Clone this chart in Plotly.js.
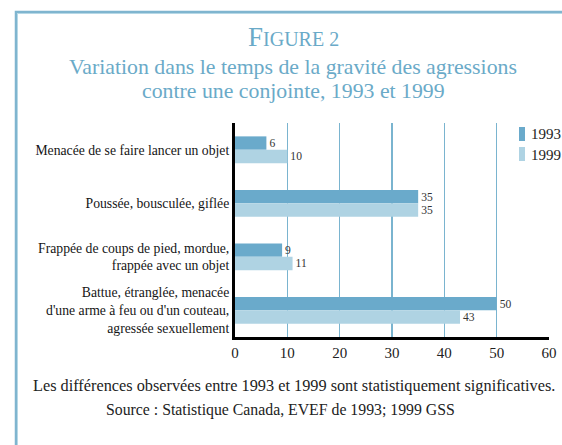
<!DOCTYPE html>
<html>
<head>
<meta charset="utf-8">
<script src="https://cdn.plot.ly/plotly-3.0.1.min.js"></script>
<style>
  html, body { margin: 0; padding: 0; background: #ffffff; }
  #chart { width: 562px; height: 445px; }
</style>
</head>
<body>
<div id="chart"></div>
<script>
const categories = [
  "Menacée de se faire lancer un objet",
  "Poussée, bousculée, giflée",
  "Frappée de coups de pied, mordue,<br>frappée avec un objet",
  "Battue, étranglée, menacée<br>d'une arme à feu ou d'un couteau,<br>agressée sexuellement"
];
const values1993 = [6, 35, 9, 50];
const values1999 = [10, 35, 11, 43];
const seriesNames = ["1993", "1999"];
const xTicks = [0, 10, 20, 30, 40, 50, 60];

const c1993 = "#6aaacb";
const c1999 = "#afd3e3";
const titleColor = "#6aaac8";
const serif = "'Liberation Serif', 'Times New Roman', serif";

const traces = [
  {
    type: "bar", orientation: "h", name: seriesNames[0],
    y: categories, x: values1993,
    marker: { color: c1993 },
    text: values1993.map(String), textposition: "outside",
    textfont: { family: serif, size: 13, color: "#333" },
    cliponaxis: false, showlegend: false, hoverinfo: "x+name"
  },
  {
    type: "bar", orientation: "h", name: seriesNames[1],
    y: categories, x: values1999,
    marker: { color: c1999 },
    text: values1999.map(String), textposition: "outside",
    textfont: { family: serif, size: 13, color: "#333" },
    cliponaxis: false, showlegend: false, hoverinfo: "x+name"
  }
];

const L = 235, R = 13, T = 123, B = 108, W = 562, H = 445;
const pw = W - L - R, ph = H - T - B;
const px = v => (v - L) / pw;
const py = v => (H - B - v) / ph;

const layout = {
  width: W, height: H,
  margin: { l: L, r: R, t: T, b: B, pad: 0 },
  paper_bgcolor: "#ffffff", plot_bgcolor: "#ffffff",
  barmode: "group", bargap: 0.5, bargroupgap: 0,
  font: { family: serif, color: "#222" },
  xaxis: {
    range: [0, 60], tickvals: xTicks, ticktext: xTicks.map(String),
    showgrid: true, gridcolor: "#7ab4cf", gridwidth: 1.5,
    zeroline: false, showline: true, linecolor: "#000", linewidth: 3,
    ticks: "", tickfont: { family: serif, size: 15, color: "#222" },
    fixedrange: true
  },
  yaxis: {
    autorange: "reversed", showgrid: false, zeroline: false,
    showline: true, linecolor: "#000", linewidth: 3,
    ticks: "", ticklabelstandoff: 0,
    tickfont: { family: serif, size: 13.7, color: "#151515" },
    fixedrange: true
  },
  shapes: [
    { type: "path", xref: "paper", yref: "paper",
      path: `M ${px(16)} ${py(460)} L ${px(16)} ${py(12)} L ${px(600)} ${py(12)}`,
      line: { color: "#7fb5cf", width: 2.5 } },
    { type: "path", xref: "paper", yref: "paper",
      path: `M ${px(17.5)} ${py(460)} L ${px(17.5)} ${py(13.5)} L ${px(600)} ${py(13.5)}`,
      line: { color: "#b6d8e6", width: 1 } },
    { type: "rect", xref: "paper", yref: "paper",
      x0: px(519), x1: px(525), y0: py(127), y1: py(141),
      fillcolor: c1993, line: { width: 0 } },
    { type: "rect", xref: "paper", yref: "paper",
      x0: px(519), x1: px(525), y0: py(147), y1: py(161),
      fillcolor: c1999, line: { width: 0 } }
  ],
  annotations: [
    { xref: "paper", yref: "paper", x: px(293), y: py(37), xanchor: "center", yanchor: "middle",
      showarrow: false, text: "F<span style='font-size:20px'>IGURE 2</span>",
      font: { family: serif, size: 27, color: titleColor } },
    { xref: "paper", yref: "paper", x: px(293), y: py(67), xanchor: "center", yanchor: "middle",
      showarrow: false, text: "Variation dans le temps de la gravité des agressions",
      font: { family: serif, size: 21.8, color: titleColor } },
    { xref: "paper", yref: "paper", x: px(293), y: py(91), xanchor: "center", yanchor: "middle",
      showarrow: false, text: "contre une conjointe, 1993 et 1999",
      font: { family: serif, size: 21.8, color: titleColor } },
    { xref: "paper", yref: "paper", x: px(529), y: py(134), xanchor: "left", yanchor: "middle",
      showarrow: false, text: seriesNames[0],
      font: { family: serif, size: 15, color: "#222" } },
    { xref: "paper", yref: "paper", x: px(529), y: py(155), xanchor: "left", yanchor: "middle",
      showarrow: false, text: seriesNames[1],
      font: { family: serif, size: 15, color: "#222" } },
    { xref: "paper", yref: "paper", x: px(294), y: py(385), xanchor: "center", yanchor: "middle",
      showarrow: false, text: "Les différences observées entre 1993 et 1999 sont statistiquement significatives.",
      font: { family: serif, size: 16.3, color: "#222" } },
    { xref: "paper", yref: "paper", x: px(280), y: py(410), xanchor: "center", yanchor: "middle",
      showarrow: false, text: "Source : Statistique Canada, EVEF de 1993; 1999 GSS",
      font: { family: serif, size: 15.8, color: "#222" } }
  ]
};

Plotly.newPlot("chart", traces, layout, { displayModeBar: false, staticPlot: true });
</script>
</body>
</html>
